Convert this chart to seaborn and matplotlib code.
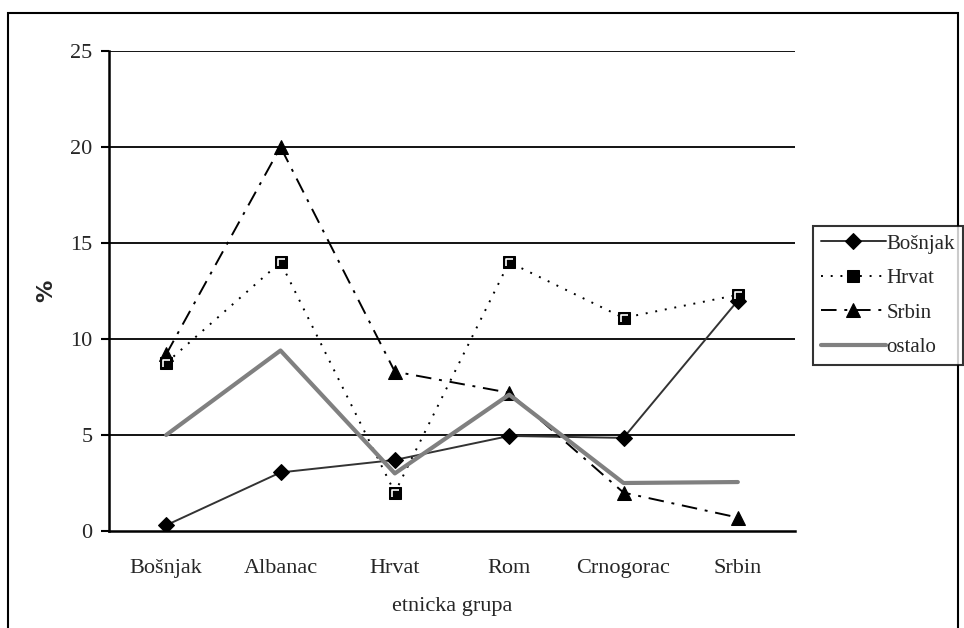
import numpy as np
import pandas as pd
import matplotlib
matplotlib.use("Agg")
import matplotlib.pyplot as plt
import seaborn as sns
from matplotlib.patches import Rectangle
from matplotlib.path import Path

categories = ["Bošnjak", "Albanac", "Hrvat", "Rom", "Crnogorac", "Srbin"]
bosnjak = [0.3, 3.05, 3.7, 4.95, 4.85, 12.0]
hrvat = [8.75, 14.0, 2.0, 14.0, 11.1, 12.3]
srbin = [9.2, 20.0, 8.3, 7.2, 2.0, 0.7]
ostalo = [5.0, 9.4, 3.0, 7.1, 2.5, 2.55]
y_ticks = [0, 5, 10, 15, 20, 25]

sns.set_style("white")
plt.rcParams["font.family"] = ["Liberation Serif", "DejaVu Serif"]
plt.rcParams["font.size"] = 16

fig = plt.figure(figsize=(9.64, 6.28), dpi=100)
ax = fig.add_axes([109 / 964, 1 - 531 / 628, (795 - 109) / 964, (531 - 51) / 628])

x = np.arange(len(categories))
styles = [
    ("Bošnjak", bosnjak, dict(color="#333333", linestyle="-", linewidth=1.4,
                              marker="D", markersize=8, markerfacecolor="black",
                              markeredgecolor="black")),
    ("Hrvat", hrvat, dict(color="black", linestyle=(0, (1, 4)), linewidth=1.4,
                          marker="s", markersize=9, markerfacecolor="black",
                          markeredgecolor="black")),
    ("Srbin", srbin, dict(color="black", linestyle=(0, (8, 4, 1.5, 4)), linewidth=1.4,
                          marker="^", markersize=10, markerfacecolor="black",
                          markeredgecolor="black")),
    ("ostalo", ostalo, dict(color="#808080", linestyle="-", linewidth=3)),
]

# gridlines first so the series lie on top
for yv in y_ticks[1:]:
    ax.axhline(yv, color="black", linewidth=1.3, zorder=1)

for name, vals, kw in styles:
    df = pd.DataFrame({"x": x, "y": vals})
    sns.lineplot(data=df, x="x", y="y", ax=ax, label=name, zorder=3, **kw)

# white inner corner on the Hrvat squares
corner = Path([(-0.5, -0.6), (-0.5, 0.5), (0.6, 0.5)],
              [Path.MOVETO, Path.LINETO, Path.LINETO])
sns.lineplot(data=pd.DataFrame({"x": x, "y": hrvat}), x="x", y="y", ax=ax,
             linestyle="none", marker=corner, markersize=6, markerfacecolor="none",
             markeredgecolor="white", markeredgewidth=1.2, legend=False, zorder=4)

ax.set_xlim(-0.5, len(categories) - 0.5)
ax.set_ylim(0, 25)
ax.set_yticks(y_ticks)
ax.set_xticks(x)
ax.set_xticklabels(categories)
ax.set_xticks(np.arange(len(categories) + 1) - 0.5, minor=True)
ax.tick_params(axis="x", which="major", length=0, pad=20)
ax.tick_params(axis="x", which="minor", length=6, width=1.5, direction="out", color="black")
ax.tick_params(axis="y", length=6, width=1.5, direction="out", color="black", pad=6, left=True)

for side in ["top", "right"]:
    ax.spines[side].set_visible(False)
for side in ["left", "bottom"]:
    ax.spines[side].set_color("black")
    ax.spines[side].set_linewidth(1.8)

ax.set_xlabel("etnicka grupa", fontsize=16, labelpad=14)
ax.set_ylabel("%", fontsize=16, fontweight="bold", family="DejaVu Sans", labelpad=10)

handles, labels = ax.get_legend_handles_labels()
ax.get_legend().remove()
leg = fig.legend(handles, labels, loc="upper left",
                 bbox_to_anchor=(813 / 964, 1 - 226 / 628),
                 frameon=True, fancybox=False, handlelength=3.1,
                 handletextpad=0.05, borderpad=0.38, labelspacing=0.72,
                 borderaxespad=0, fontsize=15)
leg.get_frame().set_edgecolor("black")
leg.get_frame().set_linewidth(1.5)

fig.patches.append(Rectangle((8 / 964, -0.1), (958 - 8) / 964, 1.1 - 13 / 628,
                             transform=fig.transFigure, fill=False,
                             edgecolor="black", linewidth=1.5))

fig.savefig("out.png", dpi=100)
